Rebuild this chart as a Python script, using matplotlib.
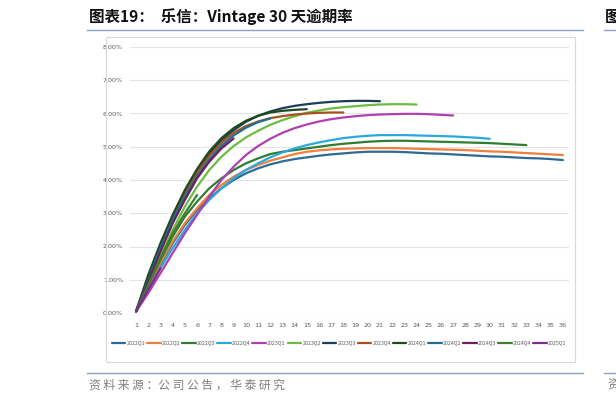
import matplotlib
matplotlib.use("Agg")
import matplotlib.pyplot as plt
from matplotlib.patches import Rectangle
from matplotlib.lines import Line2D
from matplotlib.ticker import FuncFormatter, MultipleLocator

plt.rcParams['font.family'] = ['Noto Sans CJK SC', 'DejaVu Sans']

# ---------------- data (30+ day delinquency, %) ----------------
months = list(range(1, 37))
cohorts = ['2022Q1', '2022Q2', '2022Q3', '2022Q4', '2023Q1', '2023Q2', '2023Q3',
           '2023Q4', '2024Q1', '2024Q2', '2024Q3', '2024Q4', '2025Q1']

v2022Q1 = [0.05, 0.75, 1.45, 2.10, 2.65, 3.10, 3.45, 3.75, 4.00, 4.20, 4.35, 4.47,
           4.56, 4.63, 4.68, 4.73, 4.77, 4.80, 4.83, 4.85, 4.85, 4.85, 4.84, 4.82,
           4.80, 4.79, 4.77, 4.75, 4.73, 4.71, 4.70, 4.68, 4.66, 4.65, 4.63, 4.60]
v2022Q2 = [0.05, 0.80, 1.50, 2.15, 2.70, 3.15, 3.55, 3.85, 4.10, 4.30, 4.45, 4.58,
           4.68, 4.78, 4.85, 4.89, 4.92, 4.94, 4.95, 4.96, 4.96, 4.96, 4.95, 4.94,
           4.93, 4.92, 4.91, 4.90, 4.88, 4.86, 4.85, 4.83, 4.81, 4.79, 4.77, 4.75]
v2022Q3 = [0.05, 0.85, 1.60, 2.30, 2.90, 3.35, 3.75, 4.05, 4.30, 4.50, 4.65, 4.78,
           4.85, 4.90, 4.95, 5.00, 5.05, 5.09, 5.12, 5.15, 5.17, 5.18, 5.18, 5.17,
           5.16, 5.15, 5.14, 5.13, 5.12, 5.11, 5.09, 5.07, 5.05]
v2022Q4 = [0.05, 0.70, 1.35, 1.95, 2.50, 3.00, 3.40, 3.75, 4.05, 4.30, 4.50, 4.68,
           4.83, 4.95, 5.05, 5.13, 5.20, 5.26, 5.30, 5.33, 5.35, 5.35, 5.35, 5.34,
           5.33, 5.32, 5.31, 5.29, 5.27, 5.24]
v2023Q1 = [0.05, 0.60, 1.20, 1.80, 2.40, 2.95, 3.50, 4.00, 4.40, 4.75, 5.02, 5.24,
           5.42, 5.56, 5.67, 5.76, 5.83, 5.88, 5.92, 5.95, 5.97, 5.98, 5.99, 5.99,
           5.98, 5.96, 5.94]
v2023Q2 = [0.05, 0.90, 1.70, 2.50, 3.20, 3.80, 4.30, 4.70, 5.02, 5.28, 5.48, 5.66,
           5.80, 5.92, 6.02, 6.09, 6.15, 6.19, 6.22, 6.25, 6.27, 6.28, 6.28, 6.27]
v2023Q3 = [0.05, 1.05, 2.00, 2.85, 3.60, 4.25, 4.80, 5.20, 5.50, 5.75, 5.93, 6.06,
           6.16, 6.23, 6.28, 6.32, 6.35, 6.37, 6.38, 6.38, 6.37]
v2023Q4 = [0.05, 1.10, 2.05, 2.90, 3.62, 4.22, 4.72, 5.12, 5.42, 5.62, 5.76, 5.86,
           5.92, 5.97, 6.00, 6.02, 6.03, 6.03]
v2024Q1 = [0.05, 1.15, 2.10, 2.95, 3.70, 4.33, 4.86, 5.26, 5.56, 5.78, 5.93, 6.03,
           6.08, 6.11, 6.13]
v2024Q2 = [0.05, 1.00, 1.95, 2.80, 3.50, 4.12, 4.62, 5.03, 5.34, 5.57, 5.74, 5.85]
v2024Q3 = [0.05, 0.95, 1.85, 2.70, 3.40, 4.05, 4.55, 4.95, 5.25]
v2024Q4 = [0.05, 0.85, 1.65, 2.40, 3.00, 3.55]
v2025Q1 = [0.05, 0.70, 1.35]

series = [v2022Q1, v2022Q2, v2022Q3, v2022Q4, v2023Q1, v2023Q2, v2023Q3,
          v2023Q4, v2024Q1, v2024Q2, v2024Q3, v2024Q4, v2025Q1]
colors = ['#2d6a96', '#f07f3a', '#2e7d32', '#2aa8e0', '#b03fb0', '#6cbd3f', '#1c3e58',
          '#a8501e', '#1f4a1f', '#1f6f92', '#6a1f5e', '#3f7f2e', '#7a2d8e']

W, H = 616, 403
fig = plt.figure(figsize=(W / 100, H / 100), dpi=100)

def fx(px):
    return px / W

def fy(py):
    return 1 - py / H

# title
fig.text(fx(89), fy(17), '图表19：  乐信：Vintage 30 天逾期率', fontsize=11.2,
         fontweight='bold', ha='left', va='center', color='#111111')
fig.text(fx(605), fy(17), '图', fontsize=11.2, fontweight='bold', ha='left',
         va='center', color='#111111')
fig.add_artist(Line2D([fx(87), fx(583)], [fy(29.5), fy(29.5)], color='#8ea3bb', lw=1.0))
fig.add_artist(Line2D([fx(604), fx(616)], [fy(29.5), fy(29.5)], color='#8ea3bb', lw=1.0))

# footer
fig.add_artist(Line2D([fx(87), fx(583)], [fy(373), fy(373)], color='#8ea3bb', lw=1.0))
fig.add_artist(Line2D([fx(604), fx(616)], [fy(373), fy(373)], color='#8ea3bb', lw=1.0))
fig.text(fx(89), fy(385), '资 料 来 源 ：公 司 公 告 ， 华 泰 研 究', fontsize=8.5,
         ha='left', va='center', color='#7f7f7f', fontweight='light')
fig.text(fx(607), fy(385), '资', fontsize=8.5, ha='left', va='center', color='#7f7f7f',
         fontweight='light')

# chart frame
fig.add_artist(Rectangle((fx(106), fy(362)), fx(575) - fx(106), fy(37) - fy(362),
                         fill=False, edgecolor='#d9d9d9', lw=0.8))

ax = fig.add_axes([fx(130), fy(313), fx(569) - fx(130), fy(47) - fy(313)])
for s, c, name in zip(series, colors, cohorts):
    ax.plot(months[:len(s)], [v / 100 for v in s], color=c, lw=1.6, label=name,
            solid_capstyle='round')

ax.set_xlim(0.5, 36.5)
ax.set_ylim(0, 0.08)
ax.yaxis.set_major_locator(MultipleLocator(0.01))
ax.yaxis.set_major_formatter(FuncFormatter(lambda v, p: f'{v * 100:.2f}%'))
ax.set_xticks(months)
ax.set_xticklabels([str(m) for m in months])
ax.grid(axis='y', color='#e3e3e3', lw=0.8)
ax.set_axisbelow(True)
for sp in ax.spines.values():
    sp.set_visible(False)
ax.tick_params(axis='both', length=0, labelsize=4.6, colors='#595959')
ax.tick_params(axis='y', pad=5)
ax.tick_params(axis='x', pad=7)
for lab in ax.get_xticklabels() + ax.get_yticklabels():
    lab.set_family(['DejaVu Sans'])

leg = fig.legend(loc='center', bbox_to_anchor=(fx(339), fy(343)), ncol=13,
                 frameon=False, fontsize=3.8, handlelength=2.6, handletextpad=0.2,
                 columnspacing=0.35, borderpad=0)
for t in leg.get_texts():
    t.set_color('#595959')
for h in leg.get_lines():
    h.set_linewidth(1.6)

fig.savefig('out.png', dpi=100)
